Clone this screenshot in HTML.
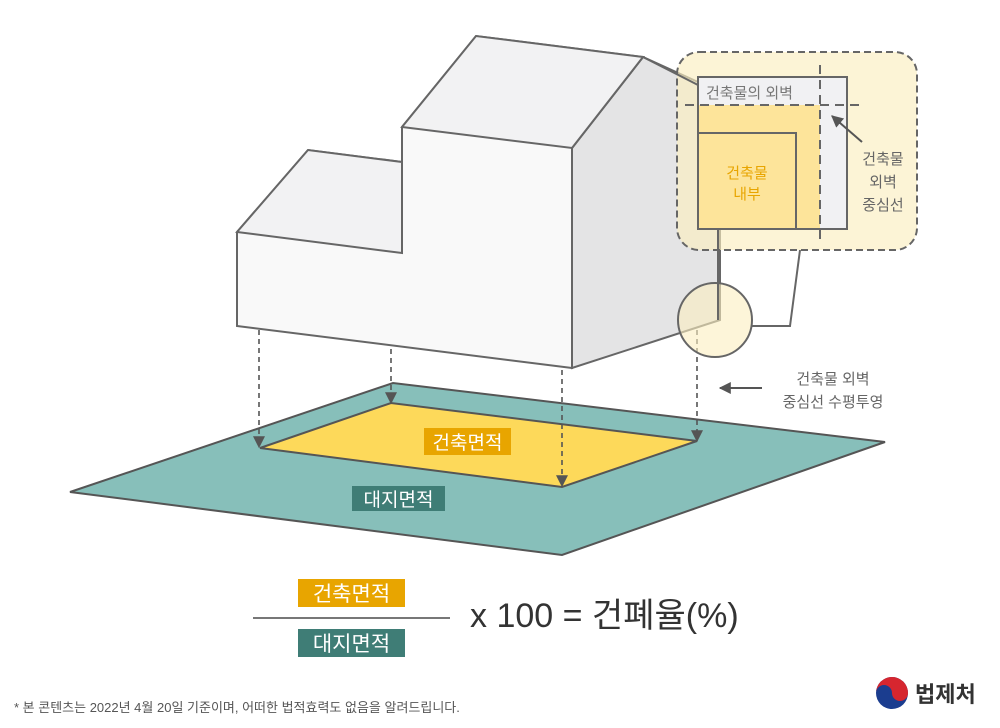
<!DOCTYPE html>
<html><head><meta charset="utf-8"><style>
body{margin:0;background:#fff;}
svg{display:block;}
text{font-family:"Liberation Sans","Noto Sans CJK KR",sans-serif;}
</style></head><body>
<svg width="1000" height="728" viewBox="0 0 1000 728" xmlns="http://www.w3.org/2000/svg">
<defs>
<marker id="ah" viewBox="0 0 10 10" refX="9" refY="5" markerWidth="9" markerHeight="9" markerUnits="userSpaceOnUse" orient="auto"><path d="M0,0L10,5L0,10z" fill="#555"/></marker>
<marker id="ah2" viewBox="0 0 10 10" refX="9" refY="5" markerWidth="12" markerHeight="12" markerUnits="userSpaceOnUse" orient="auto"><path d="M0,0L10,5L0,10z" fill="#555"/></marker>
</defs>
<polygon points="70,492 393,383 885,442 562,555" fill="#87bfba" stroke="#555" stroke-width="2"/>
<polygon points="260,448 391,403 697,441 562,487" fill="#fdd95a" stroke="#555" stroke-width="2"/>
<rect x="424" y="428" width="87" height="27" fill="#e8a500"/>
<text x="467.5" y="449" font-size="19" fill="#fff" text-anchor="middle">건축면적</text>
<rect x="352" y="486" width="93" height="25" fill="#3f7d76"/>
<text x="398.5" y="506" font-size="19" fill="#fff" text-anchor="middle">대지면적</text>
<polygon points="572,148 643,57 720,92 720,320 572,368" fill="#e4e4e5" stroke="#666" stroke-width="2"/>
<polygon points="237,232 308,150 402,162 402,127 476,36 643,57 572,148 572,368 237,326" fill="#f9f9f9" stroke="#666" stroke-width="2"/>
<polygon points="237,232 308,150 402,162 402,253" fill="#f2f2f3" stroke="#666" stroke-width="2"/>
<polygon points="402,127 476,36 643,57 572,148" fill="#f2f2f3" stroke="#666" stroke-width="2"/>
<line x1="572" y1="148" x2="572" y2="368" stroke="#666" stroke-width="2"/>
<g stroke="#555" stroke-width="1.6" stroke-dasharray="5,4" fill="none" marker-end="url(#ah2)">
<line x1="259" y1="330" x2="259" y2="447"/>
<line x1="391" y1="349" x2="391" y2="403"/>
<line x1="562" y1="370" x2="562" y2="486"/>
<line x1="697" y1="330" x2="697" y2="441"/>
</g>
<circle cx="715" cy="320" r="37" fill="#fbeec0" fill-opacity="0.6" stroke="#666" stroke-width="2"/>
<polyline points="752,326 790,326 800,250" fill="none" stroke="#666" stroke-width="2"/>
<rect x="677" y="52" width="240" height="198" rx="22" fill="#fbeec0" fill-opacity="0.65" stroke="#666" stroke-width="2" stroke-dasharray="7,4"/>
<line x1="643" y1="57" x2="698" y2="85" stroke="#666" stroke-width="2"/>
<rect x="698" y="77" width="149" height="152" fill="#f1f1f3" stroke="#666" stroke-width="2"/>
<rect x="699" y="105" width="121" height="123" fill="#fde49a"/>
<rect x="698" y="133" width="98" height="96" fill="#fde49a" stroke="#666" stroke-width="2"/>
<line x1="685" y1="105" x2="862" y2="105" stroke="#666" stroke-width="2" stroke-dasharray="9,6"/>
<line x1="820" y1="65" x2="820" y2="240" stroke="#666" stroke-width="2" stroke-dasharray="9,6"/>
<line x1="718" y1="229" x2="718" y2="320" stroke="#666" stroke-width="2"/>
<text x="706" y="98" font-size="15" fill="#777">건축물의 외벽</text>
<text x="747" y="178" font-size="15" fill="#e8a500" text-anchor="middle">건축물</text>
<text x="747" y="199" font-size="15" fill="#e8a500" text-anchor="middle">내부</text>
<line x1="862" y1="142" x2="832" y2="116" stroke="#555" stroke-width="2" marker-end="url(#ah2)"/>
<text x="883" y="164" font-size="15" fill="#666" text-anchor="middle">건축물</text>
<text x="883" y="187" font-size="15" fill="#666" text-anchor="middle">외벽</text>
<text x="883" y="210" font-size="15" fill="#666" text-anchor="middle">중심선</text>
<line x1="762" y1="388" x2="720" y2="388" stroke="#555" stroke-width="2" marker-end="url(#ah2)"/>
<text x="833" y="384" font-size="15" fill="#666" text-anchor="middle">건축물 외벽</text>
<text x="833" y="407" font-size="15" fill="#666" text-anchor="middle">중심선 수평투영</text>
<rect x="298" y="579" width="107" height="28" fill="#e8a500"/>
<text x="351.5" y="601" font-size="21" fill="#fff" text-anchor="middle">건축면적</text>
<line x1="253" y1="618" x2="450" y2="618" stroke="#777" stroke-width="2"/>
<rect x="298" y="629" width="107" height="28" fill="#3f7d76"/>
<text x="351.5" y="651" font-size="21" fill="#fff" text-anchor="middle">대지면적</text>
<text x="470" y="627" font-size="34" fill="#333">x 100 = 건폐율(%)</text>
<text x="14" y="712" font-size="13" fill="#555">* 본 콘텐츠는 2022년 4월 20일 기준이며, 어떠한 법적효력도 없음을 알려드립니다.</text>
<circle cx="892" cy="693" r="16" fill="#1b3d8f"/>
<path d="M876,693 A16,16 0 0 1 908,693 A8,8 0 0 1 892,693 A8,8 0 0 0 876,693z" fill="#d6262f"/>
<text x="915" y="702" font-size="22" font-weight="bold" fill="#333">법제처</text>
</svg>
</body></html>
